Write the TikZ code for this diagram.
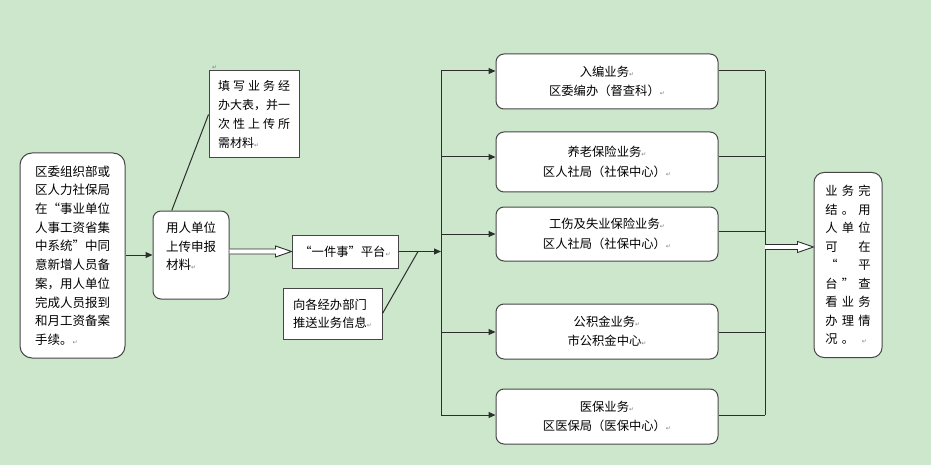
\documentclass[tikz,border=0pt]{standalone}
\usepackage{fontspec}
\setmainfont{Noto Sans CJK SC}
\newfontfamily\djv{DejaVu Sans}
\usetikzlibrary{arrows.meta,calc}
\definecolor{bg}{RGB}{205,231,205}
\definecolor{lncol}{RGB}{45,45,45}
\definecolor{bdcol}{RGB}{70,70,70}
\newcommand\retm{{\djv\fontsize{6}{6}\selectfont\color{gray}↵}}
\newcommand\gc[1]{\makebox[16.5pt]{#1}}
\newcommand\hollow[2]{\draw[draw=lncol, line width=0.9pt, fill=white, line join=miter]
  ($(#1)+(0,2.5)$) -- ($(#2)+(-16,2.5)$) -- ($(#2)+(-16,5.5)$) -- (#2) --
  ($(#2)+(-16,-5.5)$) -- ($(#2)+(-16,-2.5)$) -- ($(#1)+(0,-2.5)$);}
\tikzset{
  box/.style={draw=bdcol, line width=1pt, fill=white, inner sep=0pt,
    font=\fontsize{12.3}{19.5}\selectfont, align=center},
  rbox/.style={box, rounded corners=8pt},
  conn/.style={draw=lncol, line width=1pt},
  arr/.style={conn, -{Triangle[length=7pt,width=6pt]}}
}
\begin{document}
\begin{tikzpicture}[x=1pt,y=-1pt]
\fill[bg] (0,0) rectangle (931,465);
\useasboundingbox (0,0) rectangle (931,465);

% left box
\node[rbox, rounded corners=12pt, minimum width=105pt, minimum height=205pt,
  font=\fontsize{12.5}{18.7}\selectfont, align=left] (L) at (72.5,255.5)
  {区委组织部或\\区人力社保局\\在“事业单位\\人事工资省集\\中系统”中同\\意新增人员备\\案，用人单位\\完成人员报到\\和月工资备案\\手续。\retm};

% applicant box
\node[rbox, minimum width=76pt, minimum height=88pt, align=left,
  font=\fontsize{12.5}{18.5}\selectfont] (U) at (191,255)
  {用人单位\\上传申报\\材料\retm\\\mbox{}};

% note box
\node[box, minimum width=90pt, minimum height=87pt, align=left,
  font=\fontsize{12}{19}\selectfont] (N) at (254,114.5)
  {\makebox[72pt][s]{填\hfill 写\hfill 业\hfill 务\hfill 经}\\办大表，并一\\\makebox[72pt][s]{次\hfill 性\hfill 上\hfill 传\hfill 所}\\需材料\retm};
\node[anchor=south west, inner sep=0pt] (Nm) at (212,70) {\retm};

% platform
\node[box, minimum width=106pt, minimum height=33pt] (P) at (345,251.5) {“一件事”平台\retm};
\node[box, minimum width=99pt, minimum height=51pt, align=left,
  font=\fontsize{12.3}{18}\selectfont] (S) at (332.5,313.5) {向各经办部门\\推送业务信息\retm};

% business boxes
\node[rbox, minimum width=222pt, minimum height=55pt] (B1) at (607,81.5) {入编业务\retm\\区委编办（督查科）\retm};
\node[rbox, minimum width=222pt, minimum height=60pt] (B2) at (607,162) {养老保险业务\retm\\区人社局（社保中心）\retm};
\node[rbox, minimum width=222pt, minimum height=54pt] (B3) at (607,234) {工伤及失业保险业务\retm\\区人社局（社保中心）\retm};
\node[rbox, minimum width=222pt, minimum height=55pt] (B4) at (607,331.5) {公积金业务\retm\\市公积金中心\retm};
\node[rbox, minimum width=222pt, minimum height=55pt] (B5) at (607,416.5) {医保业务\retm\\区医保局（医保中心）\retm};

% final box
\node[rbox, rounded corners=10pt, minimum width=68pt, minimum height=185pt,
  font=\fontsize{12.3}{18.5}\selectfont] (F) at (848,265)
  {\gc{业}\gc{务}\gc{完}\\\gc{结}\gc{。}\gc{用}\\\gc{人}\gc{单}\gc{位}\\\gc{可}\gc{}\gc{在}\\\gc{“}\gc{}\gc{平}\\\gc{台}\gc{”}\gc{查}\\\gc{看}\gc{业}\gc{务}\\\gc{办}\gc{理}\gc{情}\\\gc{况}\gc{。}\gc{\retm}};

% connectors
\draw[arr] (L.east |- U.west) -- (U.west);
\draw[conn] ($(U.north west)!0.25!(U.north east)$) -- (N.west);
\coordinate (h1s) at (U.east |- P.west);
\hollow{h1s}{P.west}

\coordinate (J) at (418,251.5);
\coordinate (a1) at (441,71);
\coordinate (a2) at (441,157);
\coordinate (a3) at (441,234);
\coordinate (a4) at (441,332);
\coordinate (a5) at (441,415);
\draw[conn] (S.east) -- (J);
\draw[arr] (P.east) -- (P.east -| a1);
\draw[conn] (a1) -- (a5);
\draw[arr] (a1) -- (a1 -| B1.west);
\draw[arr] (a2) -- (a2 -| B2.west);
\draw[arr] (a3) -- (a3 -| B3.west);
\draw[arr] (a4) -- (a4 -| B4.west);
\draw[arr] (a5) -- (a5 -| B5.west);

\coordinate (r1) at (765,71);
\coordinate (r2) at (765,157);
\coordinate (r3) at (765,231);
\coordinate (r4) at (765,332);
\coordinate (r5) at (765,415);
\draw[conn] (r1 -| B1.east) -- (r1);
\draw[conn] (r2 -| B2.east) -- (r2);
\draw[conn] (r3 -| B3.east) -- (r3);
\draw[conn] (r4 -| B4.east) -- (r4);
\draw[conn] (r5 -| B5.east) -- (r5);
\draw[conn] (r1) -- (r5);
\coordinate (hf) at (765,247);
\coordinate (he) at (hf -| F.west);
\hollow{hf}{he}
\end{tikzpicture}
\end{document}
